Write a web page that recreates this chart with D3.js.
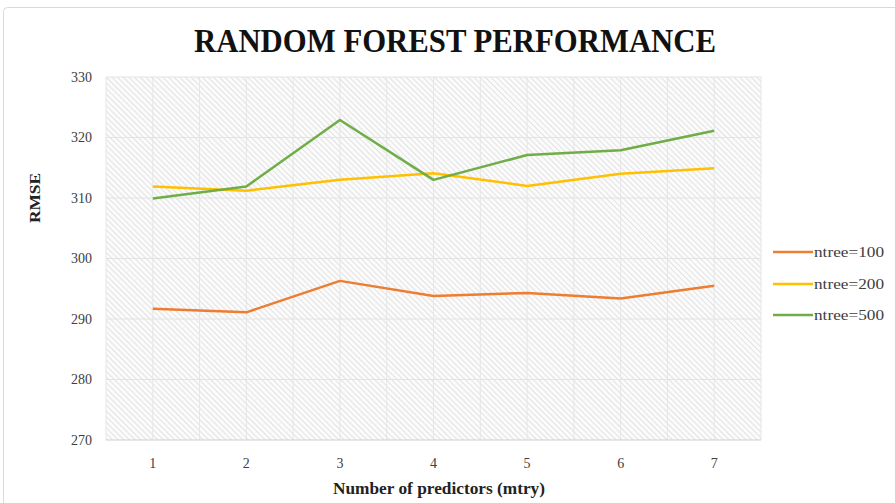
<!DOCTYPE html>
<html><head><meta charset="utf-8">
<script src="https://cdn.jsdelivr.net/npm/d3@7"></script>
<style>body{margin:0;background:#fff}svg{display:block}</style>
</head><body>
<svg id="c" width="895" height="503"></svg>
<script>
const categories = [1,2,3,4,5,6,7];
const yTicks = [270,280,290,300,310,320,330];
const seriesNames = ["ntree=100","ntree=200","ntree=500"];
const ntree100 = [291.7,291.1,296.3,293.8,294.3,293.4,295.5];
const ntree200 = [311.9,311.2,313.0,314.1,312.0,314.0,314.9];
const ntree500 = [309.9,311.9,322.9,313.0,317.1,317.9,321.1];
const colors = ["#ED7D31","#FFC000","#70AD47"];
const seriesValues = [ntree100, ntree200, ntree500];

const svg = d3.select("#c");
const serif = "'Liberation Serif','Times New Roman',serif";
const L=106, R=761, T=77, B=440;

// outer border
svg.append("rect").attr("x",3.5).attr("y",7.5).attr("width",900).attr("height",520)
  .attr("rx",4).attr("fill","#fff").attr("stroke","#d9d9d9");

// hatch pattern
const defs = svg.append("defs");
const pat = defs.append("pattern").attr("id","hatch").attr("patternUnits","userSpaceOnUse")
  .attr("width",4).attr("height",4).attr("patternTransform","rotate(-45)");
pat.append("rect").attr("width",4).attr("height",4).attr("fill","#fbfbfb");
pat.append("line").attr("x1",0).attr("y1",0).attr("x2",0).attr("y2",4)
  .attr("stroke","#d8d8d8").attr("stroke-width",1.4);

const x = d3.scaleBand().domain(categories).range([L,R]);
const xc = d => x(d) + x.bandwidth()/2;
const y = d3.scaleLinear().domain([270,330]).range([B,T]);

svg.append("rect").attr("x",L).attr("y",T).attr("width",R-L).attr("height",B-T).attr("fill","url(#hatch)");

// grid
const g = svg.append("g");
const vx = [];
categories.forEach(c=>{ vx.push(x(c)); vx.push(xc(c)); });
vx.push(R);
g.selectAll("line.v").data(vx).join("line").attr("class","v")
  .attr("x1",d=>d).attr("x2",d=>d).attr("y1",T).attr("y2",B)
  .attr("stroke","#e6e6e6").attr("stroke-width",1);
g.selectAll("line.h").data(yTicks).join("line").attr("class","h")
  .attr("x1",L).attr("x2",R).attr("y1",d=>y(d)).attr("y2",d=>y(d))
  .attr("stroke",d=>d===270?"#cfcfcf":"#e3e3e3").attr("stroke-width",1);

// axes labels
const yAxis = d3.axisLeft(y).tickValues(yTicks).tickSize(0).tickPadding(14);
const ya = svg.append("g").attr("transform",`translate(${L},0)`).call(yAxis);
ya.select(".domain").remove();
ya.selectAll("text").attr("font-family",serif).attr("font-size",14).attr("fill","#404040");

const xAxis = d3.axisBottom(x).tickSize(0).tickPadding(18);
const xa = svg.append("g").attr("transform",`translate(0,${B})`).call(xAxis);
xa.select(".domain").remove();
xa.selectAll("text").attr("font-family",serif).attr("font-size",14).attr("fill","#404040");

// lines
const line = d3.line().x((d,i)=>xc(categories[i])).y(d=>y(d));
seriesValues.forEach((vals,i)=>{
  svg.append("path").datum(vals).attr("d",line).attr("fill","none")
    .attr("stroke",colors[i]).attr("stroke-width",2.5).attr("stroke-linejoin","round");
});

// title
svg.append("text").attr("x",455).attr("y",52).attr("text-anchor","middle")
  .attr("font-family",serif).attr("font-weight","bold").attr("font-size",34)
  .attr("textLength",522).attr("lengthAdjust","spacingAndGlyphs")
  .attr("fill","#111").text("RANDOM FOREST PERFORMANCE");

// axis titles
svg.append("text").attr("transform","translate(40,198) rotate(-90)").attr("text-anchor","middle")
  .attr("font-family",serif).attr("font-weight","bold").attr("font-size",15)
  .attr("textLength",50).attr("lengthAdjust","spacingAndGlyphs").attr("fill","#222").text("RMSE");
svg.append("text").attr("x",439).attr("y",494).attr("text-anchor","middle")
  .attr("font-family",serif).attr("font-weight","bold").attr("font-size",16)
  .attr("textLength",212).attr("lengthAdjust","spacingAndGlyphs").attr("fill","#222")
  .text("Number of predictors (mtry)");

// legend
const ly = [252,284,315];
seriesNames.forEach((n,i)=>{
  svg.append("line").attr("x1",773).attr("x2",813).attr("y1",ly[i]).attr("y2",ly[i])
    .attr("stroke",colors[i]).attr("stroke-width",2.5);
  svg.append("text").attr("x",814).attr("y",ly[i]+5).attr("font-family",serif)
    .attr("font-size",15).attr("textLength",70).attr("lengthAdjust","spacingAndGlyphs")
    .attr("fill","#404040").text(n);
});
</script>
</body></html>
